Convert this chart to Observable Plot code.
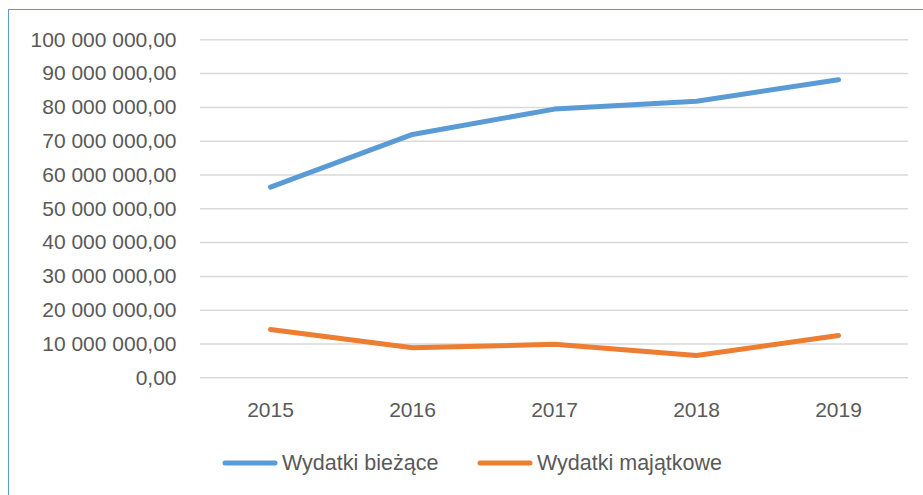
<!DOCTYPE html>
<html>
<head>
<meta charset="utf-8">
<script src="https://cdn.jsdelivr.net/npm/d3@7"></script>
<script src="https://cdn.jsdelivr.net/npm/@observablehq/plot@0.6"></script>
<style>
  html, body { margin: 0; padding: 0; background: #fff; overflow: hidden; width: 923px; height: 495px; }
  #frame { position: absolute; left: 8px; top: 9px; width: 1000px; height: 600px; border: 1.5px solid #5b9bd5; box-sizing: border-box; pointer-events: none; }
  #chart { position: absolute; left: 0; top: 0; }
  .legend { position: absolute; top: 448px; height: 30px; display: flex; align-items: center; font-family: "Liberation Sans", Arial, sans-serif; font-size: 21.5px; color: #595959; white-space: nowrap; }
  .legend svg { display: block; margin-right: 4px; }
</style>
</head>
<body>
<div id="chart"></div>
<div id="legend"></div>
<div id="frame"></div>
<script>
const years = ["2015", "2016", "2017", "2018", "2019"];
const seriesNames = ["Wydatki bieżące", "Wydatki majątkowe"];
const seriesColors = ["#5b9bd5", "#ed7d31"];
const biezace = [56.4e6, 72.0e6, 79.5e6, 81.8e6, 88.2e6];
const majatkowe = [14.3e6, 8.9e6, 9.9e6, 6.6e6, 12.5e6];
const yTicks = [0, 10e6, 20e6, 30e6, 40e6, 50e6, 60e6, 70e6, 80e6, 90e6, 100e6];

const rows = [];
years.forEach((y, i) => rows.push({ year: y, value: biezace[i], series: seriesNames[0] }));
years.forEach((y, i) => rows.push({ year: y, value: majatkowe[i], series: seriesNames[1] }));

const fmt = d3.formatLocale({ decimal: ",", thousands: " ", grouping: [3], currency: ["", ""] }).format(",.2f");

const chart = Plot.plot({
  width: 923,
  height: 440,
  marginLeft: 200,
  marginRight: 15,
  marginTop: 39.3,
  marginBottom: 62.7,
  style: { fontFamily: "Liberation Sans, Arial, sans-serif", fontSize: "21px", color: "#595959", background: "transparent" },
  x: { type: "point", domain: years, padding: 0.5, range: [198, 909] },
  y: { domain: [0, 100e6] },
  color: { domain: seriesNames, range: seriesColors },
  marks: [
    Plot.gridY(yTicks, { stroke: "#d9d9d9", strokeOpacity: 1, strokeWidth: 1.5 }),
    Plot.axisY(yTicks, { tickSize: 0, tickPadding: 24, tickFormat: fmt, label: null, fill: "#595959" }),
    Plot.axisX({ tickSize: 0, tickPadding: 24, label: null, fill: "#595959" }),
    Plot.line(rows, { x: "year", y: "value", stroke: "series", z: "series", strokeWidth: 5, strokeLinecap: "round", strokeLinejoin: "round" })
  ]
});
document.getElementById("chart").appendChild(chart);

const legendLefts = [222, 477];
const legend = document.getElementById("legend");
seriesNames.forEach((name, i) => {
  const item = document.createElement("div");
  item.className = "legend";
  item.style.left = legendLefts[i] + "px";
  item.innerHTML = `<svg width="56" height="10"><line x1="3" y1="5" x2="53" y2="5" stroke="${seriesColors[i]}" stroke-width="5" stroke-linecap="round"/></svg><span>${name}</span>`;
  legend.appendChild(item);
});
</script>
</body>
</html>
